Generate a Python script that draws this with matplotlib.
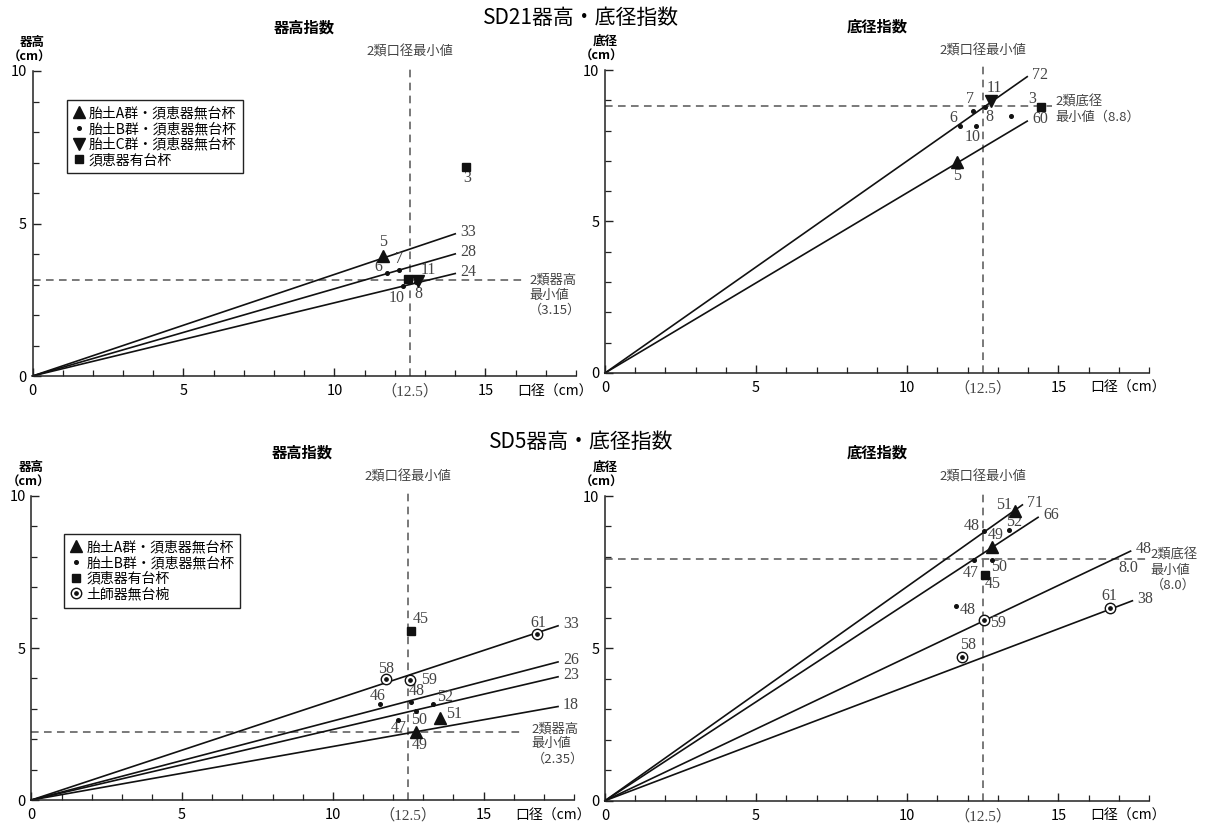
import matplotlib
matplotlib.use('Agg')
import matplotlib.pyplot as plt
from matplotlib.lines import Line2D
from matplotlib.ticker import MultipleLocator, FixedLocator

plt.rcParams['font.family'] = ['Noto Sans CJK JP', 'DejaVu Sans']
SERIF = ['Liberation Serif', 'Noto Sans CJK JP']

# ---------------- data ----------------
x_max = 18
y_max = 10
min_rim = 12.5  # 2類口径最小値

# SD21 器高指数
sd21_h_line_labels = ["33", "28", "24"]
sd21_h_line_slopes = [0.333, 0.286, 0.240]
sd21_h_line_ends = [14.0, 14.0, 14.0]
sd21_h_min = 3.15
sd21_h_A_x = [11.6];  sd21_h_A_y = [3.92]; sd21_h_A_lab = ["5"]
sd21_h_B_x = [11.75, 12.15, 12.26, 12.70]; sd21_h_B_y = [3.38, 3.48, 2.96, 3.07]; sd21_h_B_lab = ["6", "7", "10", "8"]
sd21_h_C_x = [12.78]; sd21_h_C_y = [3.13]; sd21_h_C_lab = ["11"]
sd21_h_S_x = [12.43, 14.37]; sd21_h_S_y = [3.19, 6.84]; sd21_h_S_lab = ["", "3"]

# SD21 底径指数
sd21_d_line_labels = ["72", "60"]
sd21_d_line_slopes = [0.700, 0.595]
sd21_d_line_ends = [13.97, 13.97]
sd21_d_min = 8.8
sd21_d_A_x = [11.66]; sd21_d_A_y = [6.96]; sd21_d_A_lab = ["5"]
sd21_d_B_x = [12.18, 12.58, 11.76, 12.28, 13.42]; sd21_d_B_y = [8.65, 8.78, 8.16, 8.16, 8.48]; sd21_d_B_lab = ["7", "8", "6", "10", ""]
sd21_d_C_x = [12.77]; sd21_d_C_y = [8.98]; sd21_d_C_lab = ["11"]
sd21_d_S_x = [14.42]; sd21_d_S_y = [8.77]; sd21_d_S_lab = ["3"]

# SD5 器高指数
sd5_h_line_labels = ["33", "26", "23", "18"]
sd5_h_line_slopes = [0.328, 0.260, 0.232, 0.176]
sd5_h_line_ends = [17.47, 17.47, 17.47, 17.47]
sd5_h_min = 2.25
sd5_h_A_x = [13.55, 12.75]; sd5_h_A_y = [2.69, 2.25]; sd5_h_A_lab = ["51", "49"]
sd5_h_B_x = [11.56, 12.59, 13.32, 12.75, 12.17]; sd5_h_B_y = [3.16, 3.21, 3.16, 2.94, 2.63]; sd5_h_B_lab = ["46", "48", "52", "50", "47"]
sd5_h_S_x = [12.59]; sd5_h_S_y = [5.56]; sd5_h_S_lab = ["45"]
sd5_h_H_x = [16.77, 11.76, 12.55]; sd5_h_H_y = [5.45, 3.99, 3.96]; sd5_h_H_lab = ["61", "58", "59"]

# SD5 底径指数
sd5_d_line_labels = ["71", "66", "48", "38"]
sd5_d_line_slopes = [0.703, 0.649, 0.471, 0.376]
sd5_d_line_ends = [13.81, 14.33, 17.39, 17.45]
sd5_d_min = 7.92
sd5_d_A_x = [13.58, 12.80]; sd5_d_A_y = [9.52, 8.34]; sd5_d_A_lab = ["51", "49"]
sd5_d_B_x = [13.36, 12.54, 12.21, 12.80, 11.60]; sd5_d_B_y = [8.88, 8.86, 7.90, 7.90, 6.40]; sd5_d_B_lab = ["52", "48", "47", "50", "48"]
sd5_d_S_x = [12.57]; sd5_d_S_y = [7.41]; sd5_d_S_lab = ["45"]
sd5_d_H_x = [12.55, 11.82, 16.71]; sd5_d_H_y = [5.93, 4.73, 6.31]; sd5_d_H_lab = ["59", "58", "61"]

x_major = [0, 5, 10, 15]
y_major = [0, 5, 10]

legend_sd21 = ["胎土A群・須恵器無台杯", "胎土B群・須恵器無台杯", "胎土C群・須恵器無台杯", "須恵器有台杯"]
legend_sd5 = ["胎土A群・須恵器無台杯", "胎土B群・須恵器無台杯", "須恵器有台杯", "土師器無台椀"]

# ---------------- layout / style ----------------
W, H = 1207, 823
fig = plt.figure(figsize=(W / 100, H / 100), dpi=100)

def add_axes(x0, x1, yb, yt):
    return fig.add_axes([x0 / W, 1 - yb / H, (x1 - x0) / W, (yb - yt) / H])

ax_tl = add_axes(32.5, 576, 376, 71)
ax_tr = add_axes(605, 1149, 373, 70)
ax_bl = add_axes(31.4, 574, 800, 496)
ax_br = add_axes(605, 1149, 800.7, 496)

LC = '#111111'
TC = '#444444'
DC = '#555555'
DASH = (0, (5, 3.5))
NUM_FS = 11.5
NOTE_FS = 9.5

styles = {
    'A': dict(marker='^', ms=8, color='#111111', ls='none'),
    'B': dict(marker='o', ms=2.6, color='#111111', ls='none'),
    'C': dict(marker='v', ms=8, color='#111111', ls='none'),
    'S': dict(marker='s', ms=6, color='#111111', ls='none'),
}


def base_axes(ax, ylabel):
    ax.set_xlim(0, x_max)
    ax.set_ylim(0, y_max)
    for s in ['top', 'right']:
        ax.spines[s].set_visible(False)
    for s in ['left', 'bottom']:
        ax.spines[s].set_linewidth(1.1)
        ax.spines[s].set_color('#222222')
    ax.xaxis.set_major_locator(FixedLocator(x_major))
    ax.xaxis.set_minor_locator(MultipleLocator(1))
    ax.yaxis.set_major_locator(FixedLocator(y_major))
    ax.yaxis.set_minor_locator(MultipleLocator(1))
    ax.tick_params(which='major', direction='in', length=6, width=1, labelsize=10.5, color='#222222', pad=6)
    ax.tick_params(which='minor', direction='in', length=4, width=0.9, color='#222222')
    ax.tick_params(axis='y', which='major', pad=4)
    ax.set_xticklabels([str(v) for v in x_major])
    ax.set_yticklabels([str(v) for v in y_major])
    ax.text(min_rim, -0.5, "（12.5）", ha='center', va='center', fontsize=11, color=TC,
            family=SERIF, clip_on=False)
    ax.text(17.3, -0.5, "口径（cm）", ha='center', va='center', fontsize=10, clip_on=False)
    ax.text(0.0, 10.95, ylabel, ha='center', va='center', fontsize=9, fontweight='bold', clip_on=False)
    ax.text(-0.1, 10.45, "（cm）", ha='center', va='center', fontsize=9, fontweight='bold', clip_on=False)
    # 2類口径最小値
    ax.plot([min_rim, min_rim], [0, 10.15], ls=DASH, color=DC, lw=1.1, clip_on=False)
    ax.text(min_rim, 10.62, "2類口径最小値", ha='center', va='center', fontsize=NOTE_FS, color=TC, clip_on=False)


def draw_lines(ax, labels, slopes, ends):
    for lab, k, xe in zip(labels, slopes, ends):
        ax.plot([0, xe], [0, k * xe], color=LC, lw=1.2, clip_on=False)
        ax.annotate(lab, (xe, k * xe), xytext=(5, 2), textcoords='offset pixels', ha='left', va='center',
                    fontsize=NUM_FS, color=TC, family=SERIF, annotation_clip=False)


def draw_points(ax, xs, ys, labs, kind, offsets):
    if kind == 'H':
        ax.plot(xs, ys, marker='o', ms=7.5, mfc='white', mec='#111111', mew=1.0, ls='none', zorder=5)
        ax.plot(xs, ys, marker='o', ms=2.4, color='#111111', ls='none', zorder=6)
    else:
        ax.plot(xs, ys, zorder=5, **styles[kind])
    for x, y, lab, off in zip(xs, ys, labs, offsets):
        if lab:
            ax.annotate(lab, (x, y), xytext=off, textcoords='offset pixels', ha='center', va='center',
                        fontsize=NUM_FS, color=TC, family=SERIF, annotation_clip=False)


def add_legend(ax, handles, labels, anchor):
    leg = ax.legend(handles, labels, loc='upper left', bbox_to_anchor=anchor, borderaxespad=0,
                    fancybox=False, edgecolor='#222222', fontsize=10, handlelength=0.8, handletextpad=0.35,
                    labelspacing=0.12, borderpad=0.45, framealpha=1)
    leg.get_frame().set_linewidth(1.0)
    return leg


# ---------------- SD21 器高 ----------------
ax = ax_tl
base_axes(ax, "器高")
ax.set_title("器高指数", fontsize=11, fontweight='bold', y=1.1)
ax.plot([0, 16.3], [sd21_h_min, sd21_h_min], ls=DASH, color=DC, lw=1.1)
ax.text(16.45, sd21_h_min + 0.2, "2類器高\n最小値\n（3.15）", ha='left', va='top', fontsize=NOTE_FS,
        color=TC, linespacing=1.2, clip_on=False)
draw_lines(ax, sd21_h_line_labels, sd21_h_line_slopes, sd21_h_line_ends)
draw_points(ax, sd21_h_A_x, sd21_h_A_y, sd21_h_A_lab, 'A', [(0, 14)])
draw_points(ax, sd21_h_B_x, sd21_h_B_y, sd21_h_B_lab, 'B', [(-9, 6), (0, 11), (-6, -12), (2, -12)])
draw_points(ax, sd21_h_C_x, sd21_h_C_y, sd21_h_C_lab, 'C', [(10, 11)])
draw_points(ax, sd21_h_S_x, sd21_h_S_y, sd21_h_S_lab, 'S', [(0, 0), (1, -11)])
h = [Line2D([], [], **styles[k]) for k in ['A', 'B', 'C', 'S']]
add_legend(ax, h, legend_sd21, (0.063, 0.905))

# ---------------- SD21 底径 ----------------
ax = ax_tr
base_axes(ax, "底径")
ax.set_title("底径指数", fontsize=11, fontweight='bold', y=1.1)
ax.plot([0, 14.8], [sd21_d_min, sd21_d_min], ls=DASH, color=DC, lw=1.1)
ax.text(14.9, sd21_d_min + 0.35, "2類底径\n最小値（8.8）", ha='left', va='top', fontsize=NOTE_FS,
        color=TC, linespacing=1.2, clip_on=False)
draw_lines(ax, sd21_d_line_labels, sd21_d_line_slopes, sd21_d_line_ends)
draw_points(ax, sd21_d_A_x, sd21_d_A_y, sd21_d_A_lab, 'A', [(0, -14)])
draw_points(ax, sd21_d_B_x, sd21_d_B_y, sd21_d_B_lab, 'B', [(-3, 12), (4, -10), (-7, 8), (-3, -11), (0, 0)])
draw_points(ax, sd21_d_C_x, sd21_d_C_y, sd21_d_C_lab, 'C', [(3, 13)])
draw_points(ax, sd21_d_S_x, sd21_d_S_y, sd21_d_S_lab, 'S', [(-9, 8)])

# ---------------- SD5 器高 ----------------
ax = ax_bl
base_axes(ax, "器高")
ax.set_title("器高指数", fontsize=11, fontweight='bold', y=1.1)
ax.plot([0, 16.3], [sd5_h_min, sd5_h_min], ls=DASH, color=DC, lw=1.1)
ax.text(16.6, sd5_h_min + 0.3, "2類器高\n最小値\n（2.35）", ha='left', va='top', fontsize=NOTE_FS,
        color=TC, linespacing=1.2, clip_on=False)
draw_lines(ax, sd5_h_line_labels, sd5_h_line_slopes, sd5_h_line_ends)
draw_points(ax, sd5_h_A_x, sd5_h_A_y, sd5_h_A_lab, 'A', [(14, 4), (4, -13)])
draw_points(ax, sd5_h_B_x, sd5_h_B_y, sd5_h_B_lab, 'B', [(-2, 8), (6, 11), (12, 7), (3, -9), (0, -8)])
draw_points(ax, sd5_h_S_x, sd5_h_S_y, sd5_h_S_lab, 'S', [(10, 12)])
draw_points(ax, sd5_h_H_x, sd5_h_H_y, sd5_h_H_lab, 'H', [(1, 11), (0, 10), (19, 0)])
h = [Line2D([], [], **styles[k]) for k in ['A', 'B', 'S']]
h.append((Line2D([], [], marker='o', ms=7.5, mfc='white', mec='#111111', ls='none'),
          Line2D([], [], marker='o', ms=2.4, color='#111111', ls='none')))
add_legend(ax, h, legend_sd5, (0.06, 0.875))

# ---------------- SD5 底径 ----------------
ax = ax_br
base_axes(ax, "底径")
ax.set_title("底径指数", fontsize=11, fontweight='bold', y=1.1)
ax.plot([0, 18], [sd5_d_min, sd5_d_min], ls=DASH, color=DC, lw=1.1)
ax.text(18.05, sd5_d_min + 0.35, "2類底径\n最小値\n（8.0）", ha='left', va='top', fontsize=NOTE_FS,
        color=TC, linespacing=1.2, clip_on=False)
ax.text(17.32, 7.63, "8.0", ha='center', va='center', fontsize=NUM_FS, color=TC, family=SERIF)
draw_lines(ax, sd5_d_line_labels, sd5_d_line_slopes, sd5_d_line_ends)
draw_points(ax, sd5_d_A_x, sd5_d_A_y, sd5_d_A_lab, 'A', [(-11, 6), (4, 12)])
draw_points(ax, sd5_d_B_x, sd5_d_B_y, sd5_d_B_lab, 'B', [(5, 8), (-12, 5), (-3, -13), (7, -7), (12, -4)])
draw_points(ax, sd5_d_S_x, sd5_d_S_y, sd5_d_S_lab, 'S', [(8, -9)])
draw_points(ax, sd5_d_H_x, sd5_d_H_y, sd5_d_H_lab, 'H', [(14, -3), (6, 12), (-1, 12)])

fig.text(581 / W, 1 - 18 / H, "SD21器高・底径指数", ha='center', va='center', fontsize=15)
fig.text(581 / W, 1 - 442 / H, "SD5器高・底径指数", ha='center', va='center', fontsize=15)

fig.savefig('out.png', dpi=100)
